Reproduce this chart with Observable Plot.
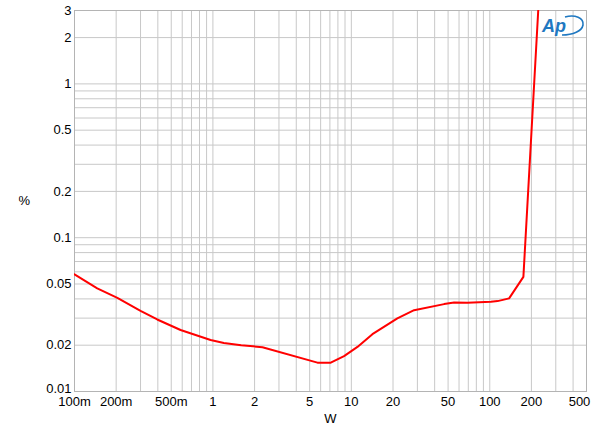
<!DOCTYPE html>
<html>
<head>
<meta charset="utf-8">
<script src="https://cdn.jsdelivr.net/npm/d3@7"></script>
<script src="https://cdn.jsdelivr.net/npm/@observablehq/plot@0.6"></script>
<style>
  html, body { margin: 0; padding: 0; background: #fff; }
  #chart { width: 600px; height: 434px; }
</style>
</head>
<body>
<div id="chart"></div>
<script>
// Power (W) and THD+N (%)
const power = [0.1, 0.146, 0.204, 0.3, 0.396, 0.584, 0.962, 1.2, 1.6, 2.28, 5.69, 7.1, 8.86, 11.07, 14.2, 21.5, 28.4, 46.8, 55.3, 69, 102, 114, 138, 175, 198, 224];
const thd   = [0.0577, 0.0468, 0.0406, 0.0334, 0.0294, 0.0251, 0.0216, 0.0207, 0.0200, 0.0194, 0.0154, 0.0154, 0.0170, 0.0195, 0.0236, 0.0299, 0.0338, 0.0370, 0.0379, 0.0378, 0.0383, 0.0387, 0.0403, 0.0556, 0.408, 3.0];

const xTickLabels = [0.1, 0.2, 0.5, 1, 2, 5, 10, 20, 50, 100, 200];
const xLastTick = [500];
const yTickLabels = [0.02, 0.05, 0.1, 0.2, 0.5, 1, 2, 3];
const yFirstTick = [0.01];
const xLabel = "W";
const yLabel = "%";

const xGrid = [];
for (const d of [0.1, 1, 10, 100]) for (let k = 1; k <= 9; k++) xGrid.push(+(d * k).toPrecision(3));
xGrid.push(1000 * 0.5);
const yGrid = [];
for (const d of [0.01, 0.1, 1]) for (let k = 1; k <= 9; k++) yGrid.push(+(d * k).toPrecision(3));

const data = power.map((p, i) => ({p, v: thd[i]}));
const fmtX = d => d < 1 ? `${Math.round(d * 1000)}m` : String(d);

const chart = Plot.plot({
  width: 600,
  height: 434,
  marginLeft: 74,
  marginRight: 14,
  marginTop: 10,
  marginBottom: 43,
  style: {fontFamily: "'Liberation Sans', Arial, sans-serif", fontSize: "13px", color: "#000", background: "#fff"},
  x: {type: "log", domain: [0.1, 500], axis: null},
  y: {type: "log", domain: [0.01, 3], axis: null},
  marks: [
    Plot.ruleX(xGrid.filter(d => d <= 500), {stroke: "#c8c8c8", strokeWidth: 1, strokeOpacity: 1}),
    Plot.ruleY(yGrid.filter(d => d <= 3), {stroke: "#c8c8c8", strokeWidth: 1, strokeOpacity: 1}),
    Plot.frame({stroke: "#b4b4b4"}),
    Plot.text(yTickLabels, {y: d => d, text: d => String(d), frameAnchor: "left", textAnchor: "end", dx: -3, fill: "#000"}),
    Plot.text(yFirstTick, {y: d => d, text: d => String(d), frameAnchor: "left", textAnchor: "end", dx: -3, dy: -3, fill: "#000"}),
    Plot.text(xTickLabels, {x: d => d, text: fmtX, frameAnchor: "bottom", lineAnchor: "top", dy: 5, fill: "#000"}),
    Plot.text(xLastTick, {x: d => d, text: fmtX, frameAnchor: "bottom", lineAnchor: "top", dy: 5, dx: -7, fill: "#000"}),
    Plot.text([yLabel], {text: d => d, frameAnchor: "left", dx: -56, fill: "#000"}),
    Plot.text([xLabel], {text: d => d, frameAnchor: "bottom", lineAnchor: "top", dy: 22, fill: "#000"}),
    Plot.line(data, {x: "p", y: "v", stroke: "#ff0000", strokeWidth: 2, clip: true})
  ]
});
document.getElementById("chart").appendChild(chart);

// Ap logo (decoration)
const svg = d3.select(chart);
const g = svg.append("g").attr("transform", "translate(553,15)");
g.append("path")
  .attr("d", "M 12 2 C 22 -1 31 3 30 10 C 29 16 20 20 9 20")
  .attr("fill", "none").attr("stroke", "#1f78c1").attr("stroke-width", 1.6);
g.append("text")
  .attr("x", 1).attr("y", 17)
  .attr("font-family", "'Liberation Sans', Arial, sans-serif")
  .attr("font-style", "italic").attr("font-weight", "bold")
  .attr("font-size", 18).attr("fill", "#1f78c1")
  .text("Ap");
</script>
</body>
</html>
